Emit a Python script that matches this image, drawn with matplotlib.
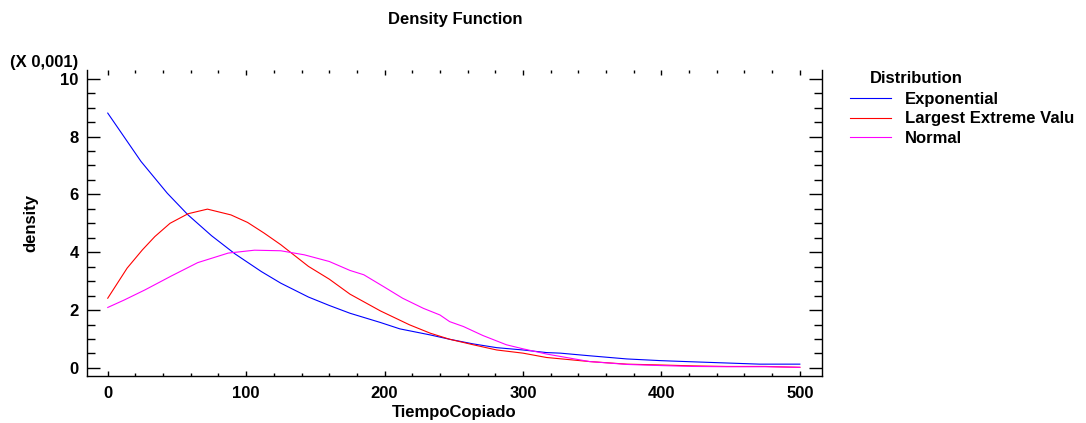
import matplotlib
matplotlib.use("Agg")
import matplotlib.pyplot as plt
from matplotlib.ticker import MultipleLocator

plt.rcParams['font.family'] = ['Liberation Sans', 'DejaVu Sans']
plt.rcParams['font.weight'] = 'bold'

# density values, in units of 0.001
x_expo = [0, 24, 43, 58, 75, 92, 111, 125, 145, 160, 175, 197, 211, 233, 247, 264, 281,
          300, 317, 327, 348, 375, 400, 423, 447, 471, 500]
exponential = [8.81, 7.14, 6.04, 5.29, 4.57, 3.94, 3.33, 2.93, 2.45, 2.16, 1.89, 1.57, 1.35,
               1.14, 0.99, 0.83, 0.70, 0.62, 0.53, 0.51, 0.42, 0.31, 0.25, 0.21, 0.17,
               0.13, 0.13]

x_lev = [0, 14, 25, 34, 45, 58, 72, 89, 101, 113, 125, 145, 160, 175, 197, 218, 233, 247,
         264, 281, 300, 317, 348, 375, 400, 423, 447, 475, 500]
largest_extreme = [2.41, 3.45, 4.08, 4.54, 5.0, 5.33, 5.49, 5.29, 5.03, 4.66, 4.26, 3.51,
                   3.07, 2.55, 1.97, 1.49, 1.20, 0.99, 0.80, 0.62, 0.51, 0.36, 0.22, 0.13,
                   0.10, 0.07, 0.05, 0.05, 0.02]

x_norm = [0, 12, 27, 46, 65, 87, 106, 125, 142, 160, 175, 185, 200, 213, 228, 240, 247, 257,
          271, 288, 300, 317, 348, 375, 400, 423, 447, 475, 500]
normal = [2.09, 2.35, 2.70, 3.18, 3.64, 3.97, 4.07, 4.05, 3.91, 3.68, 3.37, 3.22, 2.79, 2.41,
          2.06, 1.83, 1.60, 1.43, 1.12, 0.80, 0.66, 0.48, 0.22, 0.12, 0.08, 0.05, 0.04,
          0.04, 0.02]

series_names = ["Exponential", "Largest Extreme Valu", "Normal"]

fig = plt.figure(figsize=(10.86, 4.23), dpi=100)
ax = fig.add_axes([0.0801, 0.1111, 0.6768, 0.7234])

ax.plot(x_expo, exponential, color="#0000ff", lw=0.8, label=series_names[0])
ax.plot(x_lev, largest_extreme, color="#ff0000", lw=0.8, label=series_names[1])
ax.plot(x_norm, normal, color="#ff00ff", lw=0.8, label=series_names[2])

ax.set_xlim(-15, 516)
ax.set_ylim(-0.28, 10.3)
ax.xaxis.set_major_locator(MultipleLocator(100))
ax.xaxis.set_minor_locator(MultipleLocator(20))
ax.yaxis.set_major_locator(MultipleLocator(2))
ax.yaxis.set_minor_locator(MultipleLocator(0.5))

ax.spines["top"].set_visible(False)
for s in ["left", "right", "bottom"]:
    ax.spines[s].set_linewidth(1.0)

ax.tick_params(axis="y", which="both", direction="in", left=True, right=True,
               labelsize=12, pad=6, width=1.0)
ax.tick_params(axis="y", which="major", length=9.4)
ax.tick_params(axis="y", which="minor", length=5.5)
ax.tick_params(axis="x", which="both", direction="in", bottom=True, top=True,
               labelsize=12, pad=7, width=1.0)
ax.tick_params(axis="x", which="major", length=3.6)
ax.tick_params(axis="x", which="minor", length=2.2)

ax.set_xlabel("TiempoCopiado", fontsize=12, fontweight="bold", labelpad=3)
ax.set_ylabel("density", fontsize=12, fontweight="bold", labelpad=16)
fig.text(0.419, 0.953, "Density Function", ha="center", va="center",
         fontsize=12, fontweight="bold")
fig.text(0.009, 0.853, "(X 0,001)", ha="left", va="center", fontsize=12, fontweight="bold")

leg = ax.legend(loc="upper left", bbox_to_anchor=(0.7825, 0.782), bbox_transform=fig.transFigure,
                frameon=False, fontsize=12, handlelength=2.45, handletextpad=0.85,
                labelspacing=0.25, borderpad=0, borderaxespad=0)
fig.text(0.801, 0.815, "Distribution", ha="left", va="center", fontsize=12, fontweight="bold")

fig.savefig("out.png", dpi=100)
